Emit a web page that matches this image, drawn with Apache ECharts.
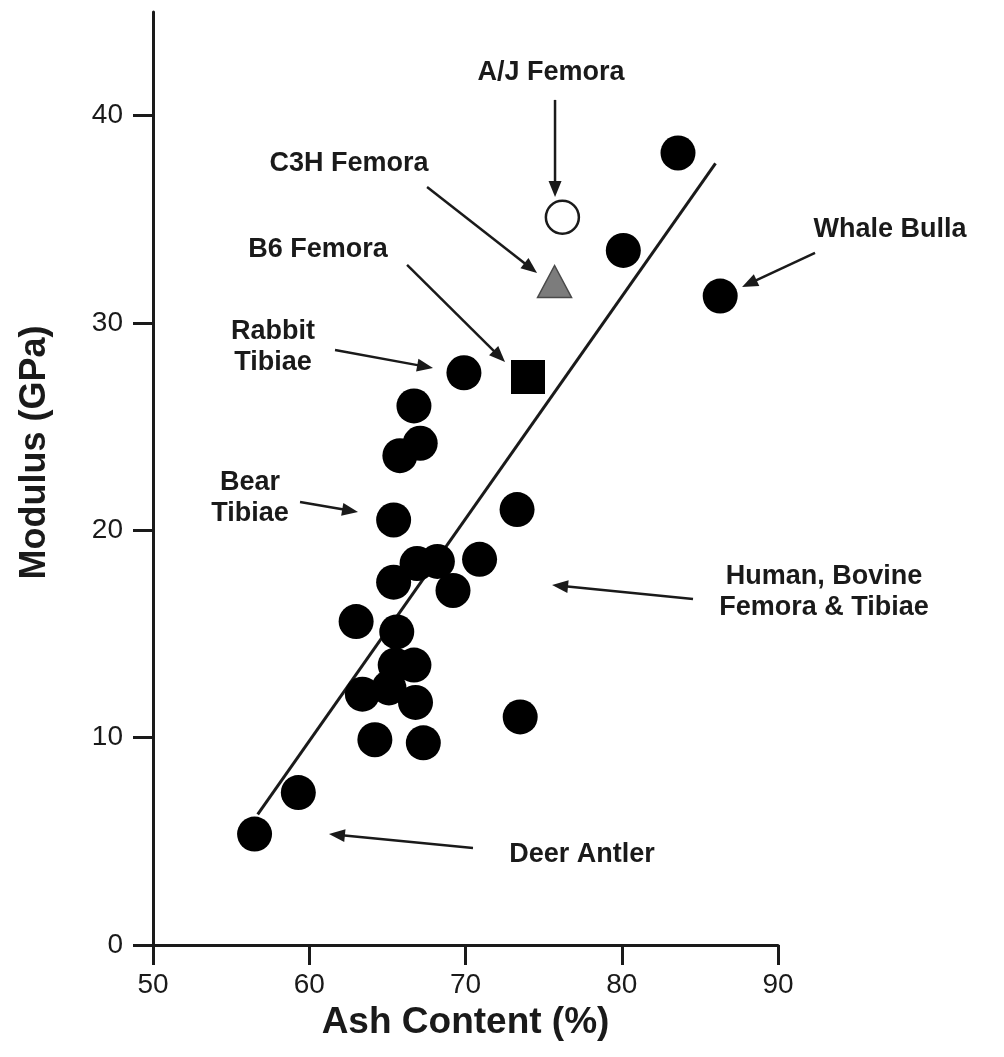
<!DOCTYPE html>
<html><head><meta charset="utf-8">
<script src="https://cdn.jsdelivr.net/npm/echarts@6/dist/echarts.min.js"></script>
<style>html,body{margin:0;padding:0;background:#fff}#c{width:1004px;height:1057px}</style>
</head><body><div id="c"></div>
<script>
// ---- data ----
const xTicks = [50, 60, 70, 80, 90];
const yTicks = [0, 10, 20, 30, 40];
const boneAsh = [56.5, 59.3, 64.2, 67.3, 73.5, 63.4, 65.1, 66.8, 65.5, 66.7, 63.0, 65.6, 65.4, 66.9, 68.2, 69.2, 70.9, 65.4, 73.3, 65.8, 67.1, 66.7, 69.9, 80.1, 83.6, 86.3];
const boneModulus = [5.35, 7.35, 9.9, 9.75, 11.0, 12.1, 12.4, 11.7, 13.5, 13.5, 15.6, 15.1, 17.5, 18.4, 18.5, 17.1, 18.6, 20.5, 21.0, 23.6, 24.2, 26.0, 27.6, 33.5, 38.2, 31.3];
const ajFemora = [76.2, 35.1];
const c3hFemora = [75.7, 32.0];
const b6Femora = [74.0, 27.4];
const fitAsh = [56.7, 86.0];
const fitModulus = [6.3, 37.7];
const noteText = ['A/J Femora', 'C3H Femora', 'B6 Femora', 'Rabbit\nTibiae', 'Bear\nTibiae', 'Human, Bovine\nFemora & Tibiae', 'Deer Antler', 'Whale Bulla'];
const noteAt = [[75.47, 42.06], [62.54, 37.67], [60.56, 33.52], [57.68, 28.84], [56.21, 21.56], [92.94, 17.03], [77.46, 4.34], [97.17, 34.49]];
const arrowFrom = [[75.73, 40.76], [67.54, 36.56], [66.26, 32.80], [61.65, 28.70], [59.41, 21.37], [84.56, 16.69], [70.48, 4.68], [92.37, 33.38]];
const arrowTo = [[75.73, 36.08], [74.58, 32.41], [72.53, 28.12], [67.92, 27.83], [63.12, 20.88], [75.54, 17.36], [61.26, 5.35], [87.70, 31.74]];

const FONT = 'Arial, "Liberation Sans", Helvetica, sans-serif';
const INK = '#1a1a1a';

const chart = echarts.init(document.getElementById('c'), null, {renderer: 'canvas'});

const bonePts = boneAsh.map((x, i) => [x, boneModulus[i]]);
const notes = noteAt.map((p, i) => [p[0], p[1], arrowFrom[i][0], arrowFrom[i][1], arrowTo[i][0], arrowTo[i][1]]);

chart.setOption({
  animation: false,
  backgroundColor: '#fff',
  grid: {left: 153, right: 226, top: 12, bottom: 112, containLabel: false, outerBoundsMode: 'none'},
  xAxis: {
    type: 'value', min: 50, max: 90, interval: 10,
    name: 'Ash Content (%)', nameLocation: 'middle', nameGap: 55,
    nameTextStyle: {fontFamily: FONT, fontWeight: 'bold', fontSize: 37, color: INK},
    axisLine: {show: true, onZero: false, lineStyle: {color: INK, width: 3}},
    axisTick: {show: true, length: 20, lineStyle: {color: INK, width: 3}, customValues: xTicks},
    axisLabel: {fontFamily: FONT, fontSize: 28, color: INK, margin: 26, customValues: xTicks},
    splitLine: {show: false}
  },
  yAxis: {
    type: 'value', min: 0, max: 45, interval: 10,
    name: 'Modulus (GPa)', nameLocation: 'middle', nameGap: 100, nameRotate: 90,
    nameTextStyle: {fontFamily: FONT, fontWeight: 'bold', fontSize: 36, color: INK, padding: [0, 0, 0, 52]},
    axisLine: {show: true, onZero: false, lineStyle: {color: INK, width: 3}},
    axisTick: {show: true, length: 20, lineStyle: {color: INK, width: 3}, customValues: yTicks},
    axisLabel: {fontFamily: FONT, fontSize: 28, color: INK, margin: 30, customValues: yTicks},
    splitLine: {show: false}
  },
  series: [
    {
      name: 'fit', type: 'line', z: 1, symbol: 'none', silent: true,
      data: fitAsh.map((x, i) => [x, fitModulus[i]]),
      lineStyle: {color: INK, width: 3}
    },
    {
      name: 'bone', type: 'scatter', z: 3, symbol: 'circle', symbolSize: 35,
      data: bonePts, itemStyle: {color: '#000', opacity: 1}
    },
    {
      name: 'A/J', type: 'scatter', z: 3, symbol: 'circle', symbolSize: 33,
      data: [ajFemora], itemStyle: {color: '#fff', borderColor: INK, borderWidth: 2.5, opacity: 1}
    },
    {
      name: 'C3H', type: 'scatter', z: 3, symbol: 'triangle', symbolSize: [34, 32],
      data: [c3hFemora], itemStyle: {color: '#7c7c7c', borderColor: '#4a4a4a', borderWidth: 1.5, opacity: 1}
    },
    {
      name: 'B6', type: 'scatter', z: 3, symbol: 'rect', symbolSize: 34,
      data: [b6Femora], itemStyle: {color: '#000', opacity: 1}
    },
    {
      name: 'notes', type: 'custom', z: 4, clip: false, silent: true,
      data: notes,
      renderItem: function (params, api) {
        const i = params.dataIndex;
        const t = api.coord([api.value(0), api.value(1)]);
        const a = api.coord([api.value(2), api.value(3)]);
        const b = api.coord([api.value(4), api.value(5)]);
        const dx = b[0] - a[0], dy = b[1] - a[1];
        const len = Math.hypot(dx, dy);
        const ux = dx / len, uy = dy / len;
        const L = 16, W = 6.5;
        const base = [b[0] - ux * L, b[1] - uy * L];
        const p1 = [base[0] - uy * W, base[1] + ux * W];
        const p2 = [base[0] + uy * W, base[1] - ux * W];
        return {
          type: 'group',
          children: [
            {type: 'line', shape: {x1: a[0], y1: a[1], x2: base[0] + ux * 3, y2: base[1] + uy * 3},
             style: {stroke: INK, lineWidth: 2.5}},
            {type: 'polygon', shape: {points: [b, p1, p2]}, style: {fill: INK}},
            {type: 'text', x: t[0], y: t[1],
             style: {text: noteText[i], fontFamily: FONT, fontWeight: 'bold', fontSize: 27,
                     fill: INK, align: 'center', verticalAlign: 'middle', lineHeight: 31}}
          ]
        };
      }
    }
  ]
});
</script></body></html>
